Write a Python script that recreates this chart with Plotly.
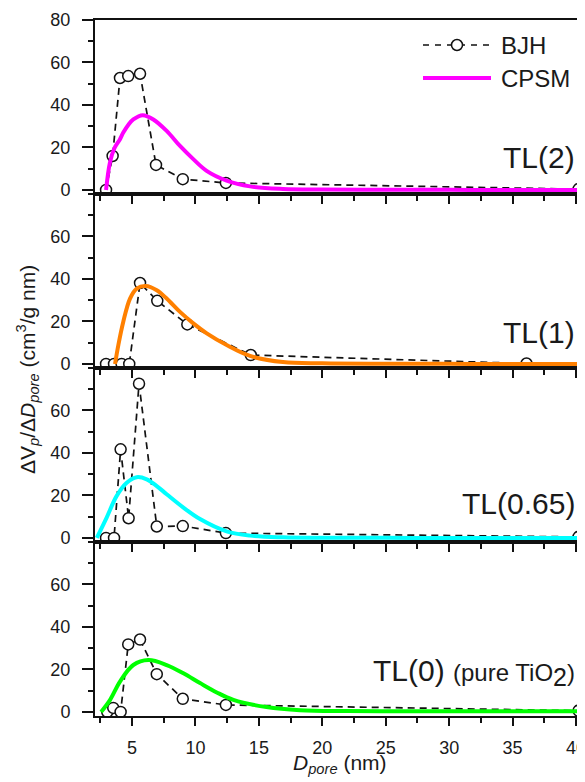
import plotly.graph_objects as go
from plotly.subplots import make_subplots

FONT = "Arial, Liberation Sans, Helvetica, sans-serif"
TXT = "#1a1a1a"

# ---------------- data ----------------
panel_labels = ["TL(2)", "TL(1)", "TL(0.65)",
                "TL(0) <span style='font-size:24px'>(pure TiO<sub><span style='font-size:25px'>2</span></sub>)</span>"]
cpsm_colors = ["#FF00FF", "#FF8000", "#00FFFF", "#00FF00"]
legend_names = ["BJH", "CPSM"]
y_ticks_top = [0, 20, 40, 60, 80]
y_ticks_lower = [0, 20, 40, 60]

# BJH points
bjh_tl2_x = [2.95, 3.47, 4.05, 4.70, 5.63, 6.89, 9.00, 12.40, 40.2]
bjh_tl2_y = [0.0, 16.0, 52.7, 53.6, 54.7, 11.8, 5.1, 3.3, 0.4]

bjh_tl1_x = [2.95, 3.58, 4.18, 4.78, 5.63, 6.99, 9.36, 14.36, 36.1]
bjh_tl1_y = [0.0, 0.0, 0.0, 0.0, 38.1, 29.7, 18.6, 4.2, 0.2]

bjh_tl065_x = [2.95, 3.58, 4.10, 4.73, 5.55, 6.95, 9.00, 12.40, 40.2]
bjh_tl065_y = [0.0, 0.0, 41.7, 9.3, 72.6, 5.4, 5.6, 2.3, 0.5]

bjh_tl0_x = [3.05, 3.52, 4.10, 4.70, 5.63, 6.95, 9.00, 12.40, 40.2]
bjh_tl0_y = [0.0, 1.9, 0.0, 31.8, 34.1, 17.8, 6.2, 3.3, 0.6]

# CPSM curves
cpsm_tl2_x = [2.95, 3.26, 3.60, 4.05, 4.31, 4.70, 5.10, 5.84, 6.68, 7.73, 8.78,
              9.83, 10.88, 12.46, 14.30, 16.90, 20.0, 25.0, 30.0, 35.0, 40.7]
cpsm_tl2_y = [0.0, 13.0, 19.5, 23.9, 27.0, 30.6, 33.2, 35.2, 33.2, 27.8, 20.7,
              14.5, 9.0, 4.4, 1.7, 0.5, 0.2, 0.1, 0.05, 0.0, 0.0]

cpsm_tl1_x = [3.66, 3.92, 4.31, 4.84, 5.37, 6.08, 6.95, 7.73, 8.78, 9.83,
              10.89, 12.46, 14.30, 16.90, 20.0, 25.0, 30.0, 35.0, 40.7]
cpsm_tl1_y = [0.0, 8.9, 19.9, 30.8, 35.5, 36.7, 34.7, 30.8, 24.5, 19.1,
              14.4, 8.9, 3.8, 0.9, 0.3, 0.1, 0.05, 0.0, 0.0]

cpsm_tl065_x = [2.22, 3.00, 3.79, 4.58, 5.37, 6.16, 6.95, 7.73, 9.05, 10.36,
                12.46, 14.30, 16.90, 20.0, 25.0, 30.0, 35.0, 40.7]
cpsm_tl065_y = [0.0, 9.6, 19.8, 26.0, 28.6, 27.6, 24.4, 20.6, 14.3, 8.9,
                3.1, 1.1, 0.3, 0.1, 0.05, 0.0, 0.0, 0.0]

cpsm_tl0_x = [2.56, 3.27, 4.05, 5.10, 6.29, 7.73, 9.05, 10.36, 11.68, 12.99,
              15.60, 18.24, 22.0, 26.0, 30.0, 35.0, 40.7]
cpsm_tl0_y = [0.0, 5.7, 14.3, 22.1, 24.4, 22.1, 18.2, 13.6, 9.2, 5.7,
              2.3, 0.8, 0.4, 0.3, 0.3, 0.3, 0.3]

bjh_sets = [(bjh_tl2_x, bjh_tl2_y), (bjh_tl1_x, bjh_tl1_y),
            (bjh_tl065_x, bjh_tl065_y), (bjh_tl0_x, bjh_tl0_y)]
cpsm_sets = [(cpsm_tl2_x, cpsm_tl2_y), (cpsm_tl1_x, cpsm_tl1_y),
             (cpsm_tl065_x, cpsm_tl065_y), (cpsm_tl0_x, cpsm_tl0_y)]

x_range = [2.08, 40.71]
y_range = [-1.9, 80]

# ---------------- geometry ----------------
# The page body adds an 8px margin, so the figure is sized to fit the window.
OFF = 8
W, H = 585 - OFF, 782 - OFF
PL, PR, PT, PB = 95, 585, 20, 716          # plot area in window pixels
ML, MT = PL - OFF, PT - OFF
MB = H - (PB - OFF)
PW, PH = PR - PL, PB - PT


def px(x):
    return (x - PL) / PW


def py(y):
    return 1 - (y - PT) / PH


# ---------------- figure ----------------
fig = make_subplots(rows=4, cols=1, shared_xaxes=True, vertical_spacing=0)

for i in range(4):
    bx, by = bjh_sets[i]
    cx, cy = cpsm_sets[i]
    fig.add_trace(go.Scatter(
        x=bx, y=by, mode="lines+markers", name=legend_names[0],
        line=dict(color="#111111", width=1.7, dash="7px,5px"),
        marker=dict(symbol="circle", size=11, color="white",
                    line=dict(color="#111111", width=1.5)),
        showlegend=False), row=i + 1, col=1)
    fig.add_trace(go.Scatter(
        x=cx, y=cy, mode="lines", name=legend_names[1], line_shape="spline",
        line=dict(color=cpsm_colors[i], width=4),
        showlegend=False), row=i + 1, col=1)

for i in range(4):
    r = i + 1
    fig.update_xaxes(
        row=r, col=1, range=x_range, showline=True, linewidth=2,
        linecolor="#111111", mirror=True, ticks="outside", ticklen=8,
        tickwidth=2, tickcolor="#111111", tick0=0, dtick=5,
        minor=dict(ticks="outside", ticklen=5, tickwidth=2,
                   tickcolor="#111111", dtick=2.5, tick0=0),
        showgrid=False, zeroline=False,
        showticklabels=(r == 4), ticklabeloverflow="allow",
        tickfont=dict(family=FONT, size=18, color=TXT),
        ticklabelstandoff=6)
    fig.update_yaxes(
        row=r, col=1, range=y_range, showline=True, linewidth=2,
        linecolor="#111111", mirror=False, ticks="outside", ticklen=11,
        tickwidth=2, tickcolor="#111111",
        tickvals=y_ticks_top if r == 1 else y_ticks_lower,
        minor=dict(ticks="outside", ticklen=5, tickwidth=2,
                   tickcolor="#111111", dtick=10, tick0=0),
        showgrid=False, zeroline=False,
        tickfont=dict(family=FONT, size=18, color=TXT),
        ticklabelstandoff=8)

# panel labels
label_y_px = [157, 332, 503, 672]
for txt, ly in zip(panel_labels, label_y_px):
    fig.add_annotation(
        text=txt, xref="paper", yref="paper", x=px(577),
        y=py(ly), xanchor="right", yanchor="middle",
        showarrow=False, font=dict(family=FONT, size=30, color=TXT))

# axis titles
fig.add_annotation(
    text="ΔV<sub><i>p</i></sub>/Δ<i>D</i><sub><i>pore</i></sub> (cm<sup>3</sup>/g nm)",
    xref="paper", yref="paper", x=px(27), y=py(370), textangle=-90,
    xanchor="center", yanchor="middle", showarrow=False,
    font=dict(family=FONT, size=21, color=TXT))
fig.add_annotation(
    text="<i>D</i><sub><i>pore</i></sub> (nm)",
    xref="paper", yref="paper", x=px(340), y=py(764),
    xanchor="center", yanchor="middle", showarrow=False,
    font=dict(family=FONT, size=21, color=TXT))

# legend (drawn as a key in the top-right corner)
leg_x0, leg_x1, leg_text = 423, 491, 499
leg_rows = [45, 78]
fig.add_shape(type="line", xref="paper", yref="paper",
              x0=px(leg_x0), x1=px(leg_x1), y0=py(leg_rows[0]), y1=py(leg_rows[0]),
              line=dict(color="#111111", width=1.7, dash="6px,6px"))
fig.add_shape(type="circle", xref="paper", yref="paper",
              xsizemode="pixel", ysizemode="pixel",
              xanchor=px((leg_x0 + leg_x1) / 2), yanchor=py(leg_rows[0]),
              x0=-5.5, x1=5.5, y0=-5.5, y1=5.5,
              fillcolor="white", line=dict(color="#111111", width=1.5))
fig.add_shape(type="line", xref="paper", yref="paper",
              x0=px(leg_x0), x1=px(leg_x1), y0=py(leg_rows[1]), y1=py(leg_rows[1]),
              line=dict(color=cpsm_colors[0], width=4))
for name, ly in zip(legend_names, leg_rows):
    fig.add_annotation(text=name, xref="paper", yref="paper",
                       x=px(leg_text), y=py(ly), xanchor="left",
                       yanchor="middle", showarrow=False,
                       font=dict(family=FONT, size=24, color=TXT))

fig.update_layout(
    width=W, height=H,
    margin=dict(l=ML, r=0, t=MT, b=MB),
    plot_bgcolor="white", paper_bgcolor="white",
    font=dict(family=FONT, color=TXT),
    showlegend=False,
)

fig.write_html("out.html")
